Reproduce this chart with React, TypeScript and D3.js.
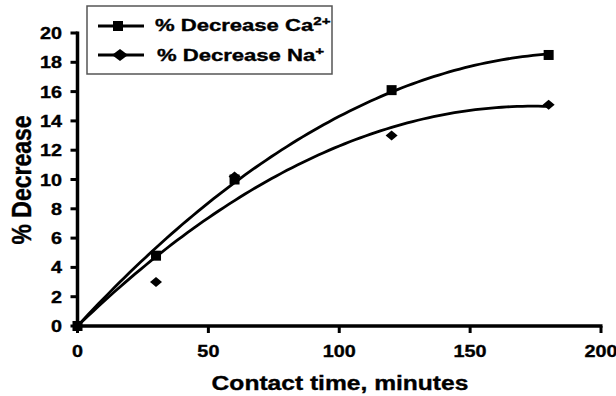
import React from 'react';
import * as d3 from 'd3';

// contact time (minutes) and measured % decrease
const timeMin = [0, 30, 60, 120, 180];
const caDecrease = [0, 4.8, 10.0, 16.1, 18.5];
const naDecrease = [0, 3.0, 10.2, 13.0, 15.1];

const xTicks = [0, 50, 100, 150, 200];
const yTicks = [0, 2, 4, 6, 8, 10, 12, 14, 16, 18, 20];

const FONT = '"Liberation Sans", Arial, Helvetica, sans-serif';
const W = 616;
const H = 396;

// 2nd order polynomial trend through the origin: y = b*x + c*x^2
function fitOrigin(xs: number[], ys: number[]) {
  let s2 = 0, s3 = 0, s4 = 0, sxy = 0, sx2y = 0;
  xs.forEach((x, i) => {
    s2 += x * x;
    s3 += x * x * x;
    s4 += x * x * x * x;
    sxy += x * ys[i];
    sx2y += x * x * ys[i];
  });
  const det = s2 * s4 - s3 * s3;
  const b = (sxy * s4 - s3 * sx2y) / det;
  const c = (s2 * sx2y - s3 * sxy) / det;
  return (x: number) => b * x + c * x * x;
}

// text in the reference is stretched sideways
const Txt = ({ x, y, k = 1.2, size, anchor = 'middle', rot = 0, children }: any) => (
  <text
    transform={`translate(${x},${y}) scale(${k},1) rotate(${rot})`}
    fontSize={size}
    fontWeight="bold"
    fontFamily={FONT}
    textAnchor={anchor}
    fill="#000"
    stroke="#000"
    strokeWidth={0.35}
  >
    {children}
  </text>
);

const Square = ({ cx, cy, s = 10 }: any) => (
  <rect x={cx - s / 2} y={cy - s / 2} width={s} height={s} fill="#000" />
);

const Diamond = ({ cx, cy, w = 12, h = 10 }: any) => (
  <path
    d={`M${cx - w / 2},${cy}L${cx},${cy - h / 2}L${cx + w / 2},${cy}L${cx},${cy + h / 2}Z`}
    fill="#000"
  />
);

export default function App() {
  const x = d3.scaleLinear().domain([0, 200]).range([77.5, 601]);
  const y = d3.scaleLinear().domain([0, 20]).range([326, 33]);

  const caFit = fitOrigin(timeMin, caDecrease);
  const naFit = fitOrigin(timeMin, naDecrease);
  const xs = d3.range(0, 180.01, 2);
  const line = d3.line<number>().x(d => x(d)).y(d => y(d));
  const caPath = line.y(d => y(caFit(d)))(xs) as string;
  const naPath = line.y(d => y(naFit(d)))(xs) as string;

  return (
    <svg width={W} height={H} style={{ position: 'absolute', left: 0, top: 0, background: '#fff' }}>
      <rect width={W} height={H} fill="#fff" />

      {/* trend curves */}
      <path d={caPath} fill="none" stroke="#000" strokeWidth={2.8} />
      <path d={naPath} fill="none" stroke="#000" strokeWidth={2.8} />

      {/* points */}
      {timeMin.map((t, i) => (
        <Diamond key={'na' + i} cx={x(t)} cy={y(naDecrease[i])} />
      ))}
      {timeMin.map((t, i) => (
        <Square key={'ca' + i} cx={x(t)} cy={y(caDecrease[i])} />
      ))}

      {/* axes */}
      <line x1={x(0)} x2={x(0)} y1={y(20) - 1.5} y2={y(0) + 1.5} stroke="#000" strokeWidth={3.5} />
      <line x1={x(0) - 1.5} x2={x(200) + 1.5} y1={y(0)} y2={y(0)} stroke="#000" strokeWidth={3.5} />
      {yTicks.map(t => (
        <g key={'yt' + t}>
          <line x1={x(0) - 7} x2={x(0)} y1={y(t)} y2={y(t)} stroke="#000" strokeWidth={3} />
          <Txt x={62} y={y(t) + 6} size={16.5} anchor="end">{t}</Txt>
        </g>
      ))}
      {xTicks.map(t => (
        <g key={'xt' + t}>
          <line x1={x(t)} x2={x(t)} y1={y(0)} y2={y(0) + 7} stroke="#000" strokeWidth={3} />
          <Txt x={x(t)} y={357} size={16.5}>{t}</Txt>
        </g>
      ))}

      <Txt x={340} y={390} size={20.5}>Contact time, minutes</Txt>
      <Txt x={31} y={180} size={23} rot={-90}>% Decrease</Txt>

      {/* legend */}
      <rect x={87} y={6} width={245} height={68} fill="#fff" stroke="#555" strokeWidth={1.5} />
      <line x1={98} x2={144} y1={26} y2={26} stroke="#000" strokeWidth={3} />
      <Square cx={118} cy={26} s={10} />
      <Txt x={155} y={31} size={16} k={1.38} anchor="start">
        % Decrease Ca<tspan fontSize={11} dy={-6}>2+</tspan>
      </Txt>
      <line x1={98} x2={144} y1={55} y2={55} stroke="#000" strokeWidth={3} />
      <Diamond cx={120} cy={55} w={16} h={12} />
      <Txt x={157} y={61} size={16} k={1.38} anchor="start">
        % Decrease Na<tspan fontSize={11} dy={-6}>+</tspan>
      </Txt>
    </svg>
  );
}
